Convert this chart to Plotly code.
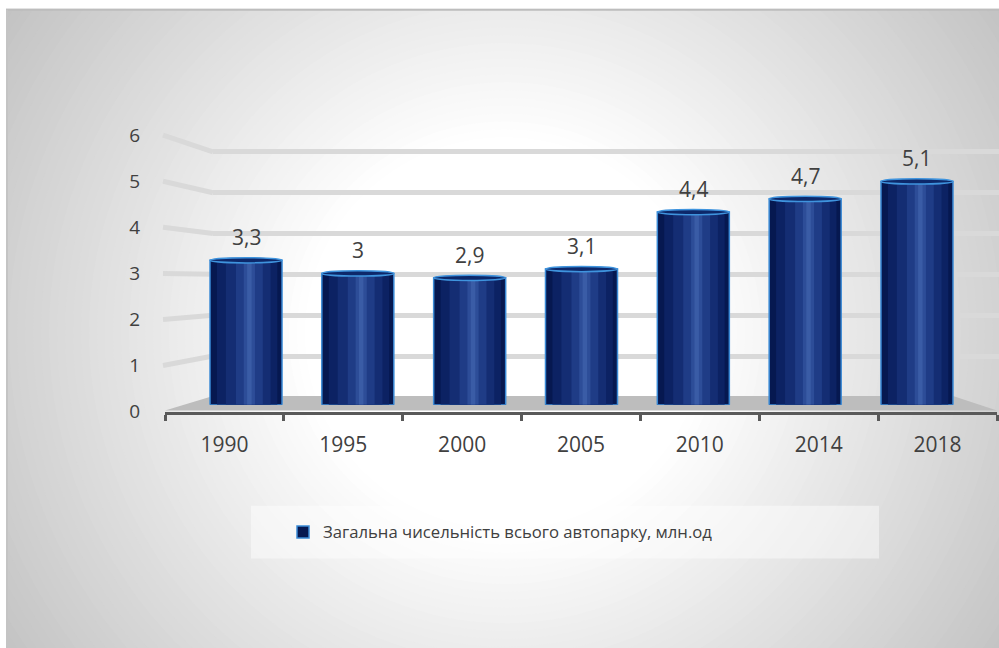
import plotly.graph_objects as go

# ---------------- data ----------------
years = ["1990", "1995", "2000", "2005", "2010", "2014", "2018"]
values = [3.3, 3.0, 2.9, 3.1, 4.4, 4.7, 5.1]
y_ticks = [0, 1, 2, 3, 4, 5, 6]
series_name = "Загальна чисельність всього автопарку, млн.од"

W, H = 999, 648
FONT = "Open Sans"
TXT = "#404040"
YMAX = 6.3


def px(x):
    return x / W


def py(y):
    return 1 - y / H


def dom(zero_px, unit_px):
    """vertical domain for a [0, YMAX] axis whose 0 sits at zero_px."""
    return [py(zero_px), py(zero_px - unit_px * YMAX)]


back_dom = dom(405, 41.67)    # back wall (gridlines)
front_dom = dom(420, 47.0)    # front plane (tick labels)
bar_dom = dom(413, 44.67)     # cylinders


def dom_to_px(d, v):
    return (1 - (d[0] + (d[1] - d[0]) * v / YMAX)) * H


fig = go.Figure()

# ---- cylinders (stepped horizontal shading) ----
layers = [
    (-0.322, 0.322, "#061850"),
    (-0.26, 0.28, "#0c2263"),
    (-0.18, 0.22, "#142d73"),
    (-0.09, 0.15, "#1f3c86"),
    (-0.02, 0.08, "#2d4d98"),
    (0.01, 0.05, "#3a5ca6"),
]
for i, (a, b, col) in enumerate(layers):
    fig.add_trace(go.Bar(
        x=years, y=values, xaxis="x3", yaxis="y3",
        width=b - a, offset=a,
        marker=dict(color=col,
                    line=dict(color="#3a8ad6" if i == 0 else col, width=1.5 if i == 0 else 0)),
        name=series_name, showlegend=(i == 0), hoverinfo="skip" if i else "x+y",
    ))

shapes = []

# ---- radial gradient background ----
cx, cy = 505, 340
r = 640
while r >= 190:
    g = 255 if r <= 200 else int(round(255 - (r - 200) / 400 * 60))
    g = max(190, min(255, g))
    shapes.append(dict(type="circle", xref="paper", yref="paper", layer="below",
                       x0=px(cx - r), x1=px(cx + r), y0=py(cy + r), y1=py(cy - r),
                       fillcolor=f"rgb({g},{g},{g})", line=dict(width=0)))
    r -= 8
# white margins + frame border
shapes.append(dict(type="rect", xref="paper", yref="paper", layer="below",
                   x0=0, x1=1, y0=py(9), y1=1.05, fillcolor="white", line=dict(width=0)))
shapes.append(dict(type="rect", xref="paper", yref="paper", layer="below",
                   x0=-0.05, x1=px(6), y0=-0.05, y1=1.05, fillcolor="white", line=dict(width=0)))
shapes.append(dict(type="line", xref="paper", yref="paper", layer="below",
                   x0=px(6), x1=1, y0=py(10), y1=py(10), line=dict(color="#bdbdbd", width=2)))
shapes.append(dict(type="line", xref="paper", yref="paper", layer="below",
                   x0=px(7), x1=px(7), y0=0, y1=py(10), line=dict(color="#c4c4c4", width=2)))
# legend box
shapes.append(dict(type="rect", xref="paper", yref="paper", layer="below",
                   x0=px(251), x1=px(879), y0=py(570), y1=py(516),
                   fillcolor="rgba(255,255,255,0.45)", line=dict(width=0)))
# floor
shapes.append(dict(type="path", xref="paper", yref="paper", layer="below",
                   path=f"M {px(165)},{py(419)} L {px(213)},{py(404)} L {px(953)},{py(404)} "
                        f"L {px(997)},{py(419)} Z",
                   fillcolor="#bdbdbd", line=dict(width=0)))
# slanted side-wall gridlines
for t in y_ticks[1:]:
    shapes.append(dict(type="line", xref="paper", yref="paper", layer="below",
                       x0=px(163), y0=py(dom_to_px(front_dom, t)),
                       x1=px(213), y1=py(dom_to_px(back_dom, t)),
                       line=dict(color="#d9d9d9", width=5)))

# cylinder bottoms and tops
for i, v in enumerate(values):
    shapes.append(dict(type="circle", xref="x3", yref="y3", layer="below",
                       x0=i - 0.322, x1=i + 0.322, y0=-0.07, y1=0.07,
                       fillcolor="#0a1f5c", line=dict(color="#3a8ad6", width=1)))
    shapes.append(dict(type="circle", xref="x3", yref="y3", layer="above",
                       x0=i - 0.322, x1=i + 0.322, y0=v - 0.06, y1=v + 0.06,
                       fillcolor="#0d286a", line=dict(color="#3f94de", width=1.5)))


def fmt(v):
    return f"{v:g}".replace(".", ",")


annotations = [dict(x=i, y=v, xref="x3", yref="y3", text=fmt(v), showarrow=False,
                    yanchor="middle", yshift=23, font=dict(family=FONT, size=21, color=TXT))
               for i, v in enumerate(values)]

# dummy traces so the front axes and the back-wall grid exist
fig.add_trace(go.Scatter(x=years, y=[None] * len(years), xaxis="x2", yaxis="y2", mode="lines",
                         showlegend=False, hoverinfo="skip"))
fig.add_trace(go.Scatter(x=[0, 1], y=[None, None], xaxis="x", yaxis="y", mode="lines",
                         showlegend=False, hoverinfo="skip"))

hidden = dict(showticklabels=False, showline=False, showgrid=False, zeroline=False, ticks="")

fig.update_layout(
    width=W, height=H,
    margin=dict(l=0, r=0, t=0, b=0),
    paper_bgcolor="white", plot_bgcolor="rgba(0,0,0,0)",
    barmode="overlay",
    font=dict(family=FONT, color=TXT),
    shapes=shapes, annotations=annotations,
    xaxis=dict(domain=[px(213), 1], range=[0, 1], anchor="y", **hidden),
    yaxis=dict(domain=back_dom, range=[0, YMAX], anchor="x", tickvals=y_ticks[1:],
               showgrid=True, gridcolor="#d9d9d9", gridwidth=5, showticklabels=False,
               zeroline=False, ticks="", showline=False),
    xaxis2=dict(domain=[px(165), px(997)], anchor="y2", type="category",
                categoryorder="array", categoryarray=years, range=[-0.5, 6.5],
                tickson="boundaries", ticks="outside", ticklen=6, tickwidth=3,
                tickcolor="#595959", showline=True, linecolor="#595959", linewidth=3,
                showgrid=False, zeroline=False, ticklabelstandoff=12,
                tickfont=dict(family=FONT, size=21, color=TXT)),
    yaxis2=dict(domain=front_dom, range=[0, YMAX], anchor="x2", tickvals=y_ticks,
                ticks="outside", ticklen=20, tickcolor="rgba(0,0,0,0)",
                showline=False, showgrid=False, zeroline=False,
                tickfont=dict(family=FONT, size=19, color=TXT)),
    xaxis3=dict(domain=[px(190.1), px(972.9)], anchor="y3", type="category",
                categoryorder="array", categoryarray=years, range=[-0.5, 6.5], **hidden),
    yaxis3=dict(domain=bar_dom, range=[0, YMAX], anchor="x3", **hidden),
    legend=dict(x=px(283), xanchor="left", y=py(543), yanchor="middle",
                bgcolor="rgba(0,0,0,0)", font=dict(family=FONT, size=16.7, color=TXT),
                orientation="h"),
    showlegend=True,
)

fig.write_html("out.html")
